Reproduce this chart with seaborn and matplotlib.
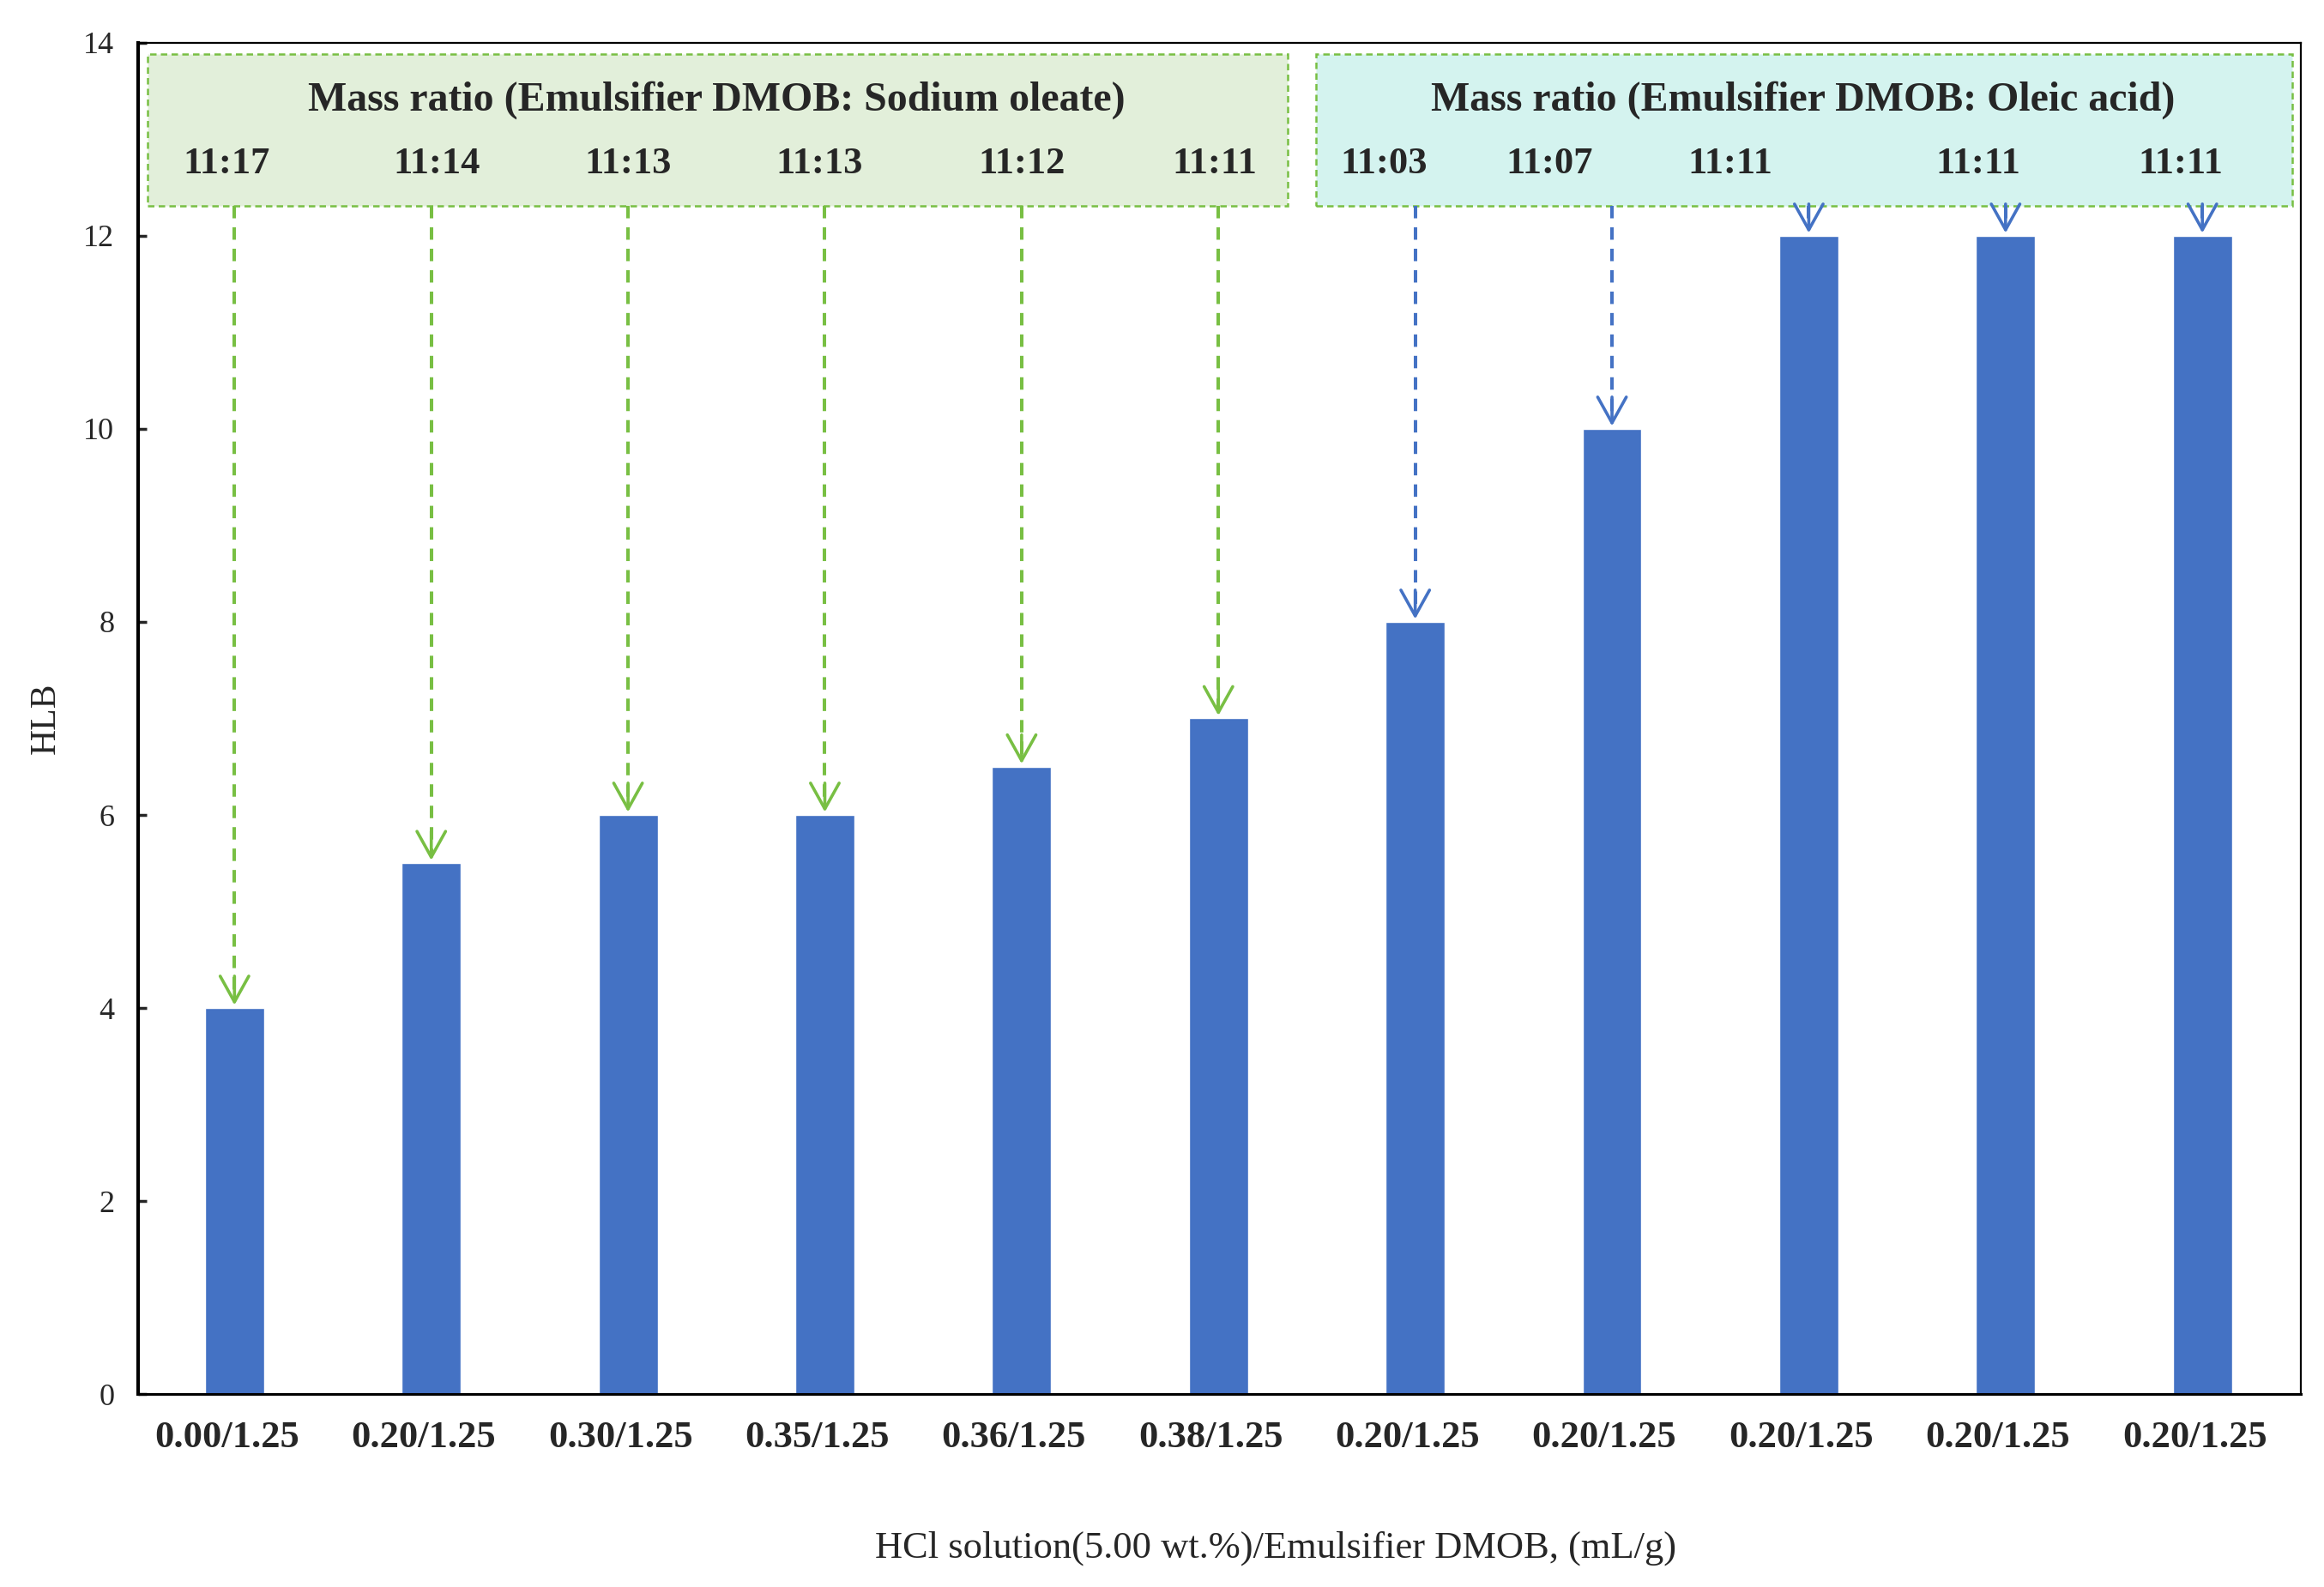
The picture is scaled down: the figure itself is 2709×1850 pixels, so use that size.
import matplotlib
matplotlib.use("Agg")
import matplotlib.pyplot as plt
import matplotlib.transforms as mtransforms
import seaborn as sns
import pandas as pd
from matplotlib.patches import Rectangle

# ---------------- data ----------------
x_labels = ["0.00/1.25", "0.20/1.25", "0.30/1.25", "0.35/1.25", "0.36/1.25", "0.38/1.25",
            "0.20/1.25", "0.20/1.25", "0.20/1.25", "0.20/1.25", "0.20/1.25"]
hlb_values = [4, 5.5, 6, 6, 6.5, 7, 8, 10, 12, 12, 12]
sodium_oleate_ratios = ["11:17", "11:14", "11:13", "11:13", "11:12", "11:11"]
oleic_acid_ratios = ["11:03", "11:07", "11:11", "11:11", "11:11"]
group_titles = ["Mass ratio (Emulsifier DMOB: Sodium oleate)",
                "Mass ratio (Emulsifier DMOB: Oleic acid)"]
y_ticks = [0, 2, 4, 6, 8, 10, 12, 14]

# ---------------- style ----------------
sns.set_style("white")
plt.rcParams["font.family"] = ["Liberation Serif", "DejaVu Serif"]

BAR = "#4472C4"
GREEN = "#78BF43"
GREEN_FILL = "#E2EFDA"
CYAN_FILL = "#D4F3EF"

fig = plt.figure(figsize=(27.09, 18.50), dpi=100)
ax = fig.add_axes([0.0594, 0.1216, 0.9306, 0.8514])

df = pd.DataFrame({"idx": list(range(len(hlb_values))), "HLB": hlb_values})
sns.barplot(data=df, x="idx", y="HLB", color=BAR, saturation=1, width=0.30, ax=ax)

ax.set_xlim(-0.49, 10.50)
ax.set_ylim(0, 14)
ax.set_yticks(y_ticks)
ax.set_yticklabels([str(t) for t in y_ticks], fontsize=26)
ax.set_xticks(range(len(x_labels)))
ax.set_xticklabels(x_labels, fontsize=32, fontweight="bold")
ax.tick_params(axis="x", length=0, pad=22)
ax.tick_params(axis="y", direction="in", length=7, width=2.5, pad=20, left=True)

# shift x tick labels slightly left, as in the reference
shift = mtransforms.ScaledTranslation(-9 / 100, 0, fig.dpi_scale_trans)
for lab in ax.get_xticklabels():
    lab.set_transform(lab.get_transform() + shift)

for side, lw in [("left", 3.0), ("bottom", 2.2), ("top", 1.6), ("right", 1.6)]:
    ax.spines[side].set_visible(True)
    ax.spines[side].set_linewidth(lw)
    ax.spines[side].set_color("black")

ax.set_xlabel("HCl solution(5.00 wt.%)/Emulsifier DMOB, (mL/g)", fontsize=32)
ax.xaxis.set_label_coords(0.526, -0.101)
ax.set_ylabel("HLB", fontsize=30)
ax.yaxis.set_label_coords(-0.035, 0.5)

# ---------------- annotation boxes ----------------
box_bottom, box_top = 12.31, 13.88
ax.add_patch(Rectangle((-0.44, box_bottom), 5.79, box_top - box_bottom,
                       facecolor=GREEN_FILL, edgecolor=GREEN, lw=1.8,
                       linestyle=(0, (3, 2)), zorder=1))
ax.add_patch(Rectangle((5.497, box_bottom), 4.96, box_top - box_bottom,
                       facecolor=CYAN_FILL, edgecolor=GREEN, lw=1.8,
                       linestyle=(0, (3, 2)), zorder=1))

title_y = 13.41
ratio_y = 12.75
ax.text(2.45, title_y, group_titles[0], ha="center", va="center",
        fontsize=34.5, fontweight="bold")
ax.text(7.97, title_y, group_titles[1], ha="center", va="center",
        fontsize=34.5, fontweight="bold")

ratios = sodium_oleate_ratios + oleic_acid_ratios
label_shift = [-0.04, 0.03, 0.0, -0.03, 0.0, -0.02, -0.16, -0.32, -0.40, -0.14, -0.11]
for i, r in enumerate(ratios):
    ax.text(i + label_shift[i], ratio_y, r, ha="center", va="center",
            fontsize=32, fontweight="bold")

# ---------------- dashed arrows ----------------
n_green = len(sodium_oleate_ratios)
for i, v in enumerate(hlb_values):
    col = GREEN if i < n_green else BAR
    tip = v + 0.03
    ax.plot([i, i], [box_bottom, tip + 0.08], color=col, lw=2.9,
            linestyle=(0, (3.6, 2.6)), zorder=2, solid_capstyle="butt")
    ax.annotate("", xy=(i, tip), xytext=(i, tip + 0.3),
                arrowprops=dict(arrowstyle="->,head_length=0.9,head_width=0.5",
                                color=col, lw=2.6, mutation_scale=24,
                                shrinkA=0, shrinkB=0), zorder=3)

fig.savefig("out.png", dpi=100)
